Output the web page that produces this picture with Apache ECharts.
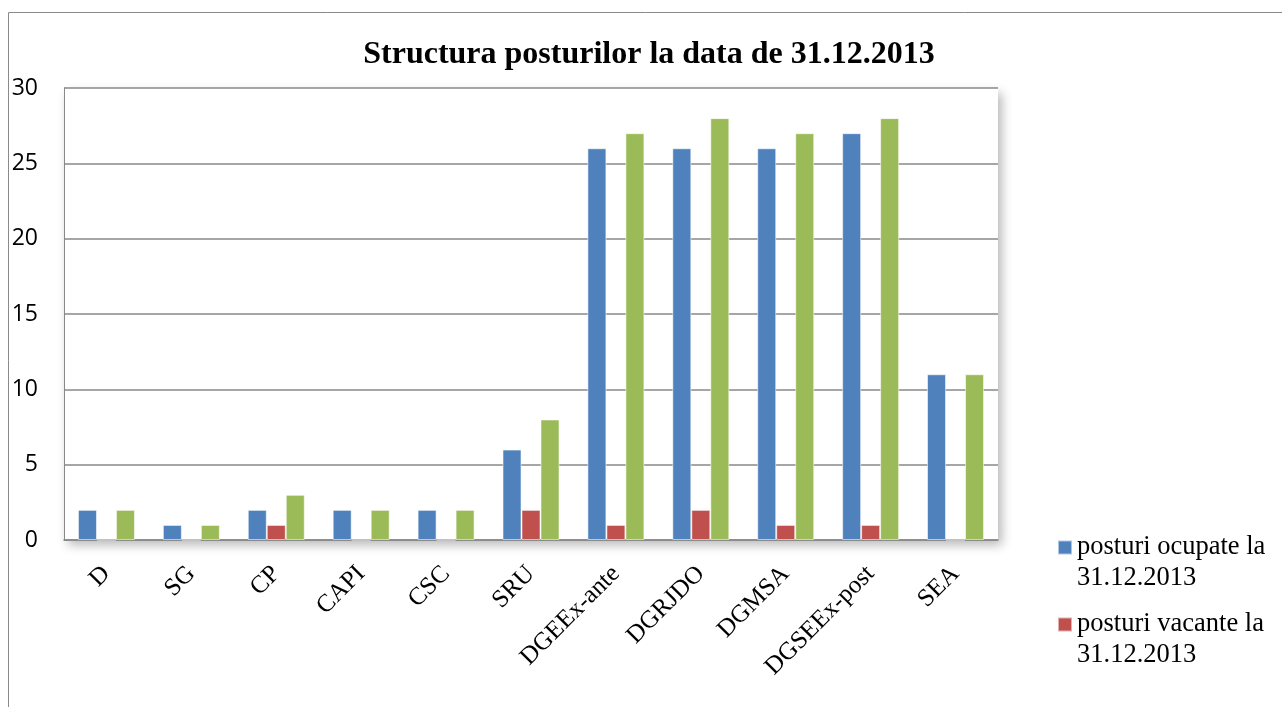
<!DOCTYPE html>
<html>
<head>
<meta charset="utf-8">
<title>Structura posturilor</title>
<script src="https://cdn.jsdelivr.net/npm/echarts@6/dist/echarts.min.js"></script>
<style>
  html, body { margin: 0; padding: 0; background: #fff; }
  #main { width: 1282px; height: 707px; }
</style>
</head>
<body>
<div id="main"></div>
<script>
// datele graficului
const categories = ['D', 'SG', 'CP', 'CAPI', 'CSC', 'SRU', 'DGEEx-ante', 'DGRJDO', 'DGMSA', 'DGSEEx-post', 'SEA'];
const ocupate = [2, 1, 2, 2, 2, 6, 26, 26, 26, 27, 11];
const vacante = [0, 0, 1, 0, 0, 2, 1, 2, 1, 1, 0];
const total = [2, 1, 3, 2, 2, 8, 27, 28, 27, 28, 11];
const seriesNames = ['posturi ocupate la 31.12.2013', 'posturi vacante la 31.12.2013', 'total posturi la 31.12.2013'];

const chart = echarts.init(document.getElementById('main'));

const serif = '"Liberation Serif", "Times New Roman", serif';

function barSeries(name, data, color) {
  return {
    name: name,
    type: 'bar',
    data: data,
    barWidth: 19,
    barGap: '0%',
    itemStyle: {
      color: color,
      borderColor: 'rgba(255,255,255,0.55)',
      borderWidth: 1,
    },
  };
}

const option = {
  animation: false,
  title: {
    text: 'Structura posturilor la data de 31.12.2013',
    left: 644,
    textAlign: 'center',
    top: 34,
    textStyle: {
      fontFamily: serif,
      fontWeight: 'bold',
      fontSize: 32,
      color: '#000',
    },
  },
  // chenarul exterior
  graphic: [
    {
      type: 'rect',
      shape: { x: 8.5, y: 12.5, width: 1400, height: 800 },
      style: { fill: 'none', stroke: '#8a8a8a', lineWidth: 1 },
      silent: true,
    },
  ],
  legend: {
    data: seriesNames.slice(0, 2),
    orient: 'vertical',
    left: 1057,
    top: 501,
    padding: 0,
    itemWidth: 14,
    itemHeight: 14,
    itemGap: -16,
    icon: 'rect',
    // linie goala in fata ca patratul sa stea langa primul rand
    formatter: (name) => '\n' + name.replace(' la ', ' la\n'),
    textStyle: {
      fontFamily: serif,
      fontSize: 26.5,
      lineHeight: 31,
      color: '#000',
    },
  },
  grid: {
    show: true,
    left: 64,
    top: 88,
    width: 934,
    height: 452,
    backgroundColor: '#fff',
    borderWidth: 0,
    shadowColor: 'rgba(0,0,0,0.28)',
    shadowBlur: 10,
    shadowOffsetX: 4,
    shadowOffsetY: 5,
  },
  xAxis: {
    type: 'category',
    data: categories,
    axisLine: { lineStyle: { color: '#888', width: 1.5 } },
    axisTick: { show: false },
    axisLabel: {
      rotate: 45,
      interval: 0,
      margin: 30,
      fontFamily: serif,
      fontSize: 25,
      color: '#000',
    },
  },
  yAxis: {
    type: 'value',
    min: 0,
    max: 30,
    interval: 5,
    axisLine: { show: true, lineStyle: { color: '#888', width: 1 } },
    axisTick: { show: false },
    axisLabel: {
      margin: 26,
      fontFamily: '"Open Sans", sans-serif',
      fontSize: 23,
      color: '#000',
    },
    splitLine: { lineStyle: { color: '#888', width: 1.5 } },
  },
  series: [
    barSeries(seriesNames[0], ocupate, '#4F81BD'),
    barSeries(seriesNames[1], vacante, '#C0504D'),
    barSeries(seriesNames[2], total, '#9BBB59'),
  ],
};

chart.setOption(option);
</script>
</body>
</html>
